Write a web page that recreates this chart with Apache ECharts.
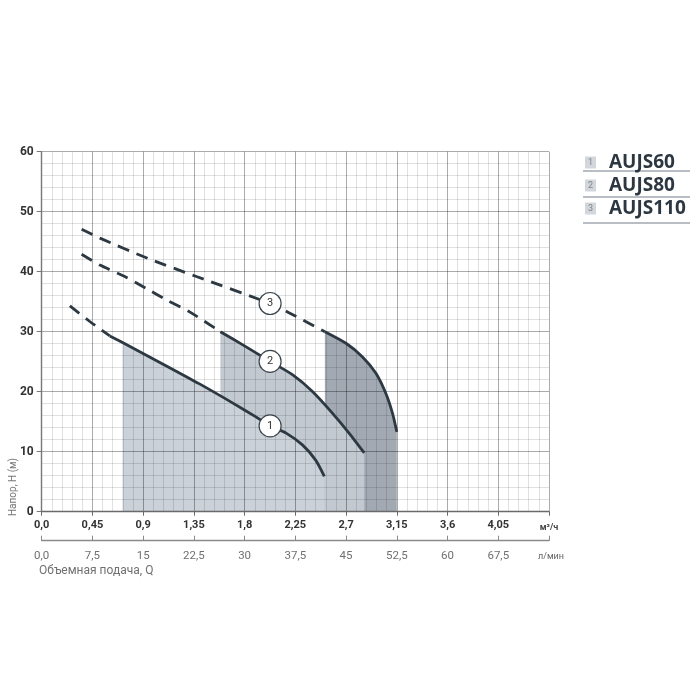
<!DOCTYPE html>
<html><head><meta charset="utf-8">
<script src="https://cdn.jsdelivr.net/npm/echarts@6/dist/echarts.min.js"></script>
<style>html,body{margin:0;padding:0;background:#fff}#c{width:700px;height:700px}</style>
</head><body><div id="c"></div>
<script>
// ---- data ----
const modelNames = ['AUJS60', 'AUJS80', 'AUJS110'];
// Q in m3/h, H in m
const aujs60Dashed = [[0.25, 34.3], [0.427, 31.7], [0.604, 29.3]];
const aujs60Solid = [[0.604, 29.3], [0.717, 28.2], [1.106, 24.3], [1.40, 21.3], [1.696, 18.1], [1.90, 15.8], [2.026, 14.3], [2.168, 13.1], [2.315, 11.1], [2.43, 8.6], [2.507, 5.9]];
const aujs80Dashed = [[0.354, 42.9], [0.516, 41.1], [0.737, 39.2], [0.929, 37.2], [1.106, 35.3], [1.312, 33.3], [1.585, 30.0]];
const aujs80Solid = [[1.585, 30.0], [1.784, 27.8], [2.026, 25.05], [2.227, 22.8], [2.404, 20.0], [2.58, 16.4], [2.728, 13.07], [2.861, 9.8]];
const aujs110Dashed = [[0.354, 47.07], [0.516, 45.6], [0.944, 42.2], [1.372, 39.2], [2.026, 34.7], [2.18, 33.3], [2.512, 30.0]];
const aujs110Solid = [[2.512, 30.0], [2.699, 28.07], [2.846, 25.8], [2.965, 23.07], [3.053, 19.7], [3.112, 16.4], [3.15, 13.3]];
const shadeStartQ = [0.717, 1.585, 2.512];
const markerLabels = ['1', '2', '3'];
const markerQ = [2.026, 2.026, 2.026];
const markerH = [14.3, 25.05, 34.7];
const flowM3hTicks = ['0,0', '0,45', '0,9', '1,35', '1,8', '2,25', '2,7', '3,15', '3,6', '4,05'];
const flowLminTicks = ['0,0', '7,5', '15', '22,5', '30', '37,5', '45', '52,5', '60', '67,5'];
const headTicks = ['0', '10', '20', '30', '40', '50', '60'];

// ---- chart ----
const FONT = 'Roboto, "Noto Sans", sans-serif';
const LINE_COLOR = '#2d3942';
const SMOOTH = 0.25;
const solids = [aujs60Solid, aujs80Solid, aujs110Solid];
const dashes = [aujs60Dashed, aujs80Dashed, aujs110Dashed];
const shadeColors = ['#cbd1d8', '#c3c9d1', '#a2a9b2'];

const series = [];
// shaded zones: drawn from largest model to smallest so smaller ones cover
[2, 1, 0].forEach(i => {
  series.push({
    name: modelNames[i] + ' zone', type: 'line', z: 1,
    data: solids[i].filter(p => p[0] >= shadeStartQ[i]),
    smooth: SMOOTH, showSymbol: false, silent: true,
    lineStyle: { width: 0 },
    areaStyle: { color: shadeColors[i], opacity: 1, origin: 'start' }
  });
});
for (let i = 0; i < 3; i++) {
  series.push({
    name: modelNames[i], type: 'line', z: 4, data: dashes[i],
    smooth: SMOOTH, showSymbol: false, silent: true,
    lineStyle: { color: LINE_COLOR, width: 2.8, type: [12, 8], cap: 'butt' }
  });
  series.push({
    name: modelNames[i], type: 'line', z: 4, data: solids[i],
    smooth: SMOOTH, showSymbol: false, silent: true,
    lineStyle: { color: LINE_COLOR, width: 2.8 }
  });
}
series.push({
  name: 'markers', type: 'scatter', z: 6, silent: true,
  symbol: 'circle', symbolSize: 22,
  data: markerQ.map((q, i) => ({ name: markerLabels[i], value: [q, markerH[i]] })),
  itemStyle: { color: '#ffffff', borderColor: '#3a444d', borderWidth: 1.2, opacity: 1 },
  label: { show: true, position: 'inside', formatter: p => p.name, color: '#333', fontSize: 11, fontFamily: FONT }
});

const majorLine = { show: true, lineStyle: { color: 'rgba(0,0,0,0.33)', width: 1 } };
const minorLine = { show: true, lineStyle: { color: 'rgba(0,0,0,0.12)', width: 1 } };

const option = {
  backgroundColor: '#ffffff',
  animation: false,
  grid: { left: 41.7, right: 151, top: 151.7, bottom: 188.3, containLabel: false, outerBoundsMode: 'none' },
  legend: {
    data: modelNames, orient: 'vertical', left: 575, top: 148,
    icon: 'none', itemWidth: 0, itemHeight: 10, itemGap: 4, selectedMode: false,
    formatter: name => '{n|' + (modelNames.indexOf(name) + 1) + '}{t|' + name + '}',
    textStyle: {
      rich: {
        n: { width: 11, height: 12, lineHeight: 12, align: 'center', verticalAlign: 'middle', backgroundColor: '#d3d7dc', color: '#7d848c', fontSize: 9, fontFamily: FONT },
        t: { fontSize: 19, fontWeight: 'bold', color: '#2c3741', padding: [0, 0, 0, 13], lineHeight: 22, verticalAlign: 'middle', fontFamily: '"Open Sans", ' + FONT }
      }
    }
  },
  xAxis: [{
    type: 'value', min: 0, max: 4.5, interval: 0.45, z: 3,
    name: 'м³/ч', nameLocation: 'end', nameGap: 0,
    nameTextStyle: { align: 'center', verticalAlign: 'top', padding: [12, 0, 0, 0], fontSize: 9, fontWeight: 'bold', color: '#444', fontFamily: FONT },
    axisLine: { show: true, onZero: false, lineStyle: { color: '#6a6a6a', width: 1.4 } },
    axisTick: { show: true, length: 4, lineStyle: { color: '#6a6a6a' } },
    axisLabel: { margin: 8, fontSize: 11, fontWeight: 'bold', color: '#333', fontFamily: FONT,
      formatter: (v, i) => flowM3hTicks[i] !== undefined ? flowM3hTicks[i] : '' },
    splitLine: majorLine,
    minorTick: { show: false, splitNumber: 5 },
    minorSplitLine: minorLine
  }, {
    type: 'value', min: 0, max: 75, interval: 7.5, position: 'bottom', offset: 29, z: 3,
    name: 'л/мин', nameLocation: 'end', nameGap: 2,
    nameTextStyle: { align: 'center', verticalAlign: 'top', padding: [12, 0, 0, 0], fontSize: 9, color: '#666', fontFamily: FONT },
    axisLine: { show: true, onZero: false, lineStyle: { color: '#8a8a8a', width: 1.4 } },
    axisTick: { show: true, inside: true, length: 5, lineStyle: { color: '#8a8a8a' } },
    axisLabel: { margin: 9, fontSize: 11.5, color: '#707070', fontFamily: FONT,
      formatter: (v, i) => flowLminTicks[i] !== undefined ? flowLminTicks[i] : '' },
    splitLine: { show: false }
  }],
  yAxis: {
    type: 'value', min: 0, max: 60, interval: 10, z: 3,
    axisLine: { show: true, lineStyle: { color: '#777', width: 1.4 } },
    axisTick: { show: true, length: 5, lineStyle: { color: '#777' } },
    axisLabel: { margin: 8, fontSize: 12, fontWeight: 'bold', color: '#333', fontFamily: FONT,
      formatter: (v, i) => headTicks[i] },
    splitLine: majorLine,
    minorTick: { show: false, splitNumber: 5 },
    minorSplitLine: minorLine
  },
  graphic: [
    { type: 'text', x: 13, y: 487, rotation: Math.PI / 2,
      style: { text: 'Напор, H (м)', align: 'center', verticalAlign: 'middle', fontSize: 10, fill: '#777', fontFamily: FONT } },
    { type: 'text', x: 39, y: 571,
      style: { text: 'Объемная подача, Q', align: 'left', verticalAlign: 'middle', fontSize: 12, fill: '#707070', fontFamily: FONT } },
    ...[0, 1, 2].map(i => ({ type: 'line', shape: { x1: 583, y1: 171 + 26 * i, x2: 690, y2: 171 + 26 * i },
      style: { stroke: '#b9bec4', lineWidth: 2 } }))
  ],
  series: series
};
echarts.init(document.getElementById('c')).setOption(option);
</script></body></html>
